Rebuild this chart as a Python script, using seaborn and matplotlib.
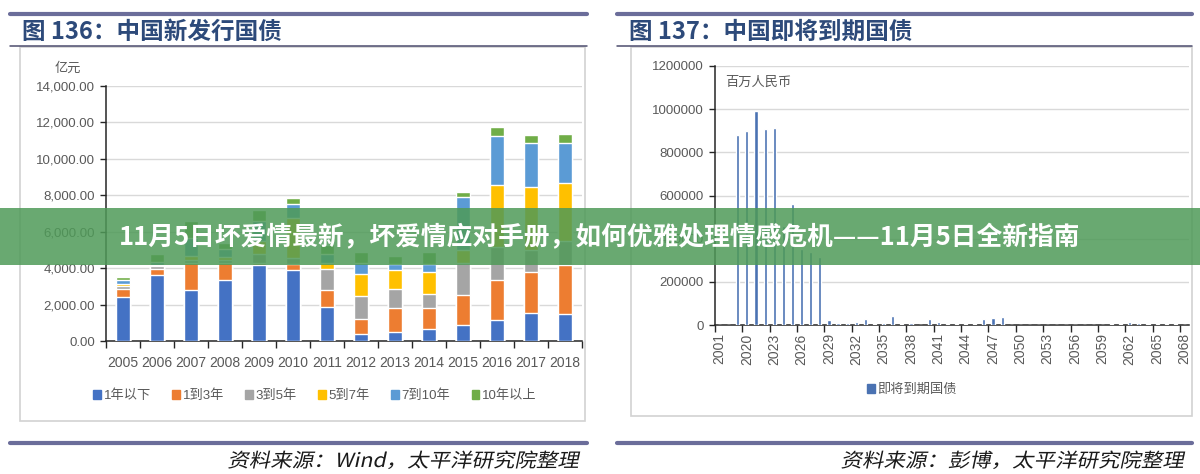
import matplotlib
matplotlib.use('Agg')
import matplotlib.pyplot as plt
import seaborn as sns
import numpy as np
from matplotlib.lines import Line2D
from matplotlib.patches import Rectangle, PathPatch
from matplotlib.textpath import TextPath
from matplotlib.font_manager import FontProperties
from matplotlib.transforms import Affine2D

# ---- data: left chart (new issuance, 亿元) ----
years_new = [str(y) for y in range(2005, 2019)]
maturities = ['1年以下', '1到3年', '3到5年', '5到7年', '7到10年', '10年以上']
under_1y = [2400, 3650, 2800, 3350, 4200, 3900, 1850, 400, 500, 650, 880, 1150, 1530, 1500]
y1_to_3 = [450, 300, 1500, 950, 100, 350, 950, 800, 1300, 1150, 1640, 2200, 2250, 2700]
y3_to_5 = [150, 150, 150, 150, 500, 300, 1150, 1270, 1050, 800, 1750, 1800, 1200, 1300]
y5_to_7 = [150, 100, 200, 150, 700, 2200, 350, 1200, 1050, 1200, 700, 3400, 3460, 3160]
y7_to_10 = [200, 150, 1000, 450, 1100, 750, 500, 600, 330, 450, 2960, 2700, 2410, 2190]
over_10y = [150, 400, 950, 350, 600, 350, 450, 600, 450, 650, 260, 490, 440, 490]
colors_new = ['#4472c4', '#ed7d31', '#a5a5a5', '#ffc000', '#5b9bd5', '#70ad47']

# ---- data: right chart (maturing bonds, 百万人民币) ----
due_years = ['2001', '2018'] + [str(y) for y in range(2019, 2069)]
due_values = [0, 0,
              880000, 900000, 990000, 910000, 915000, 460000, 560000, 350000, 336000, 314000,
              22000, 8000, 11000, 12000, 28000, 5000, 9000, 40000, 5000, 8000,
              0, 28000, 16000, 5000, 5000, 4000, 5000, 28000, 32000, 37000,
              0, 0, 0, 0, 0, 0, 0, 0, 0, 0, 0,
              3000, 4000, 16000, 8000, 5000, 4000, 3000, 3000, 2000]

W, H = 1200, 474


def fx(px):
    return px / W


def fy(py):
    return 1 - py / H


sns.set_theme(style='white')
plt.rcParams['font.family'] = ['Liberation Sans', 'Noto Sans CJK SC', 'DejaVu Sans']
cjk = ['Noto Sans CJK SC', 'DejaVu Sans']
tick_col = '#595959'

fig = plt.figure(figsize=(12, 4.74), dpi=100)
fig.patch.set_facecolor('white')

# ---- left chart ----
ax1 = fig.add_axes([fx(106), fy(341), fx(582) - fx(106), (341 - 86) / H])
series = [under_1y, y1_to_3, y3_to_5, y5_to_7, y7_to_10, over_10y]
cum = np.cumsum(np.array(series), axis=0)
# stacked bars: draw the running totals from the top layer down
for i in range(len(series) - 1, -1, -1):
    sns.barplot(x=years_new, y=cum[i], color=colors_new[i], saturation=1,
                width=0.43, ax=ax1, zorder=3)
ax1.set_xlim(-0.5, len(years_new) - 0.5)
ax1.set_ylim(0, 14000)
yt = list(range(0, 14001, 2000))
ax1.set_yticks(yt)
ax1.set_yticklabels([f'{v:,.2f}' for v in yt])
ax1.set_xticks(range(len(years_new)))
ax1.set_xticklabels(years_new)
ax1.set_xticks(np.arange(-0.5, len(years_new), 1.0), minor=True)

# ---- right chart ----
ax2 = fig.add_axes([fx(715), fy(325), fx(1189) - fx(715), (325 - 66) / H])
sns.barplot(x=due_years, y=due_values, color='#4a72b2', saturation=1,
            width=0.35, ax=ax2, zorder=3)
ax2.set_xlim(-0.5, len(due_years) - 0.5)
ax2.set_ylim(0, 1200000)
yt2 = list(range(0, 1200001, 200000))
ax2.set_yticks(yt2)
ax2.set_yticklabels([str(v) for v in yt2])
ax2.set_xticks(range(0, len(due_years), 3))
ax2.set_xticklabels(due_years[::3], rotation=90)
ax2.set_xticks(np.arange(-0.5, len(due_years), 3.0), minor=True)

for ax, xpad in ((ax1, 11), (ax2, 6)):
    ax.set_xlabel('')
    ax.set_ylabel('')
    ax.set_facecolor('none')
    ax.yaxis.grid(True, color='#d9d9d9', lw=1)
    ax.xaxis.grid(False)
    ax.set_axisbelow(True)
    for s in ('top', 'right'):
        ax.spines[s].set_visible(False)
    for s in ('left', 'bottom'):
        ax.spines[s].set_color('#262626')
        ax.spines[s].set_linewidth(1.1)
    ax.tick_params(axis='y', which='major', length=4, width=1, color='#262626',
                   labelsize=9.5, labelcolor=tick_col, pad=4, left=True)
    ax.tick_params(axis='x', which='major', length=0, labelsize=10,
                   labelcolor=tick_col, pad=xpad)
    ax.tick_params(axis='x', which='minor', length=5, width=1, color='#262626',
                   bottom=True)

# ---- unit labels ----
fig.text(fx(68), fy(68), '亿元', ha='center', va='center', fontsize=9.5,
         color=tick_col, family=cjk)
fig.text(fx(725), fy(82), '百万人民币', ha='left', va='center', fontsize=9.5,
         color=tick_col, family=cjk)

# ---- legends ----
h1 = [Rectangle((0, 0), 1, 1, color=c) for c in colors_new]
fig.legend(h1, maturities, loc='center', bbox_to_anchor=(fx(315), fy(396)),
           ncol=6, frameon=False, fontsize=9.5, handlelength=0.6,
           handleheight=0.6, handletextpad=0.2, columnspacing=1.6,
           labelcolor=tick_col)
h2 = [Rectangle((0, 0), 1, 1, color='#4a72b2')]
fig.legend(h2, ['即将到期国债'], loc='center', bbox_to_anchor=(fx(912), fy(390)),
           frameon=False, fontsize=9.5, handlelength=0.6, handleheight=0.6,
           handletextpad=0.2, labelcolor=tick_col)

# ---- frames, rules, titles, sources ----
title_col = '#2d4a7a'
rule_col = '#6b6d9a'
src_font = FontProperties(family='Noto Sans CJK SC')
panels = [(10, 587, 20, 585, 421, '图 136：中国新发行国债', '资料来源：Wind，太平洋研究院整理'),
          (617, 1192, 631, 1192, 416, '图 137：中国即将到期国债', '资料来源：彭博，太平洋研究院整理')]
for x0, x1, bx0, bx1, by1, title, source in panels:
    fig.add_artist(Rectangle((fx(bx0), fy(by1)), fx(bx1) - fx(bx0), (by1 - 47) / H,
                             fill=False, edgecolor='#d2d2d2', lw=1.2,
                             transform=fig.transFigure, zorder=0))
    fig.add_artist(Line2D([fx(x0), fx(x1)], [fy(14), fy(14)], color=rule_col, lw=3,
                          transform=fig.transFigure))
    fig.add_artist(Line2D([fx(x0), fx(x1)], [fy(46), fy(46)], color='#4d4d6e', lw=1.1,
                          transform=fig.transFigure))
    fig.add_artist(Line2D([fx(x0), fx(x1)], [fy(443), fy(443)], color=rule_col, lw=3,
                          transform=fig.transFigure))
    fig.text(fx(x0 + 12), fy(32), title, ha='left', va='center', fontsize=17,
             fontweight='bold', color=title_col, family=cjk)
    # slanted, slightly stretched source line (reference uses an italic kai-style face)
    tp = TextPath((0, 0), source, size=19.5, prop=src_font)
    ext = tp.get_extents()
    sx = 1.1
    tr = Affine2D().scale(sx, 1).skew_deg(12, 0).translate(x1 - 6 - ext.x1 * sx - 3, H - 467)
    fig.add_artist(PathPatch(tp, transform=tr, facecolor='#1a1a1a',
                             edgecolor='none', zorder=2))

# ---- overlay banner ----
fig.add_artist(Rectangle((0, fy(265)), 1, (265 - 208) / H, facecolor='#4f9a58',
                         alpha=0.85, edgecolor='none', transform=fig.transFigure,
                         zorder=10))
fig.text(0.5, fy(238), '11月5日坏爱情最新，坏爱情应对手册，如何优雅处理情感危机——11月5日全新指南',
         ha='center', va='center', fontsize=18.5, fontweight='bold', color='white',
         family=cjk, zorder=11)

fig.savefig('out.png', dpi=100, facecolor='white')
